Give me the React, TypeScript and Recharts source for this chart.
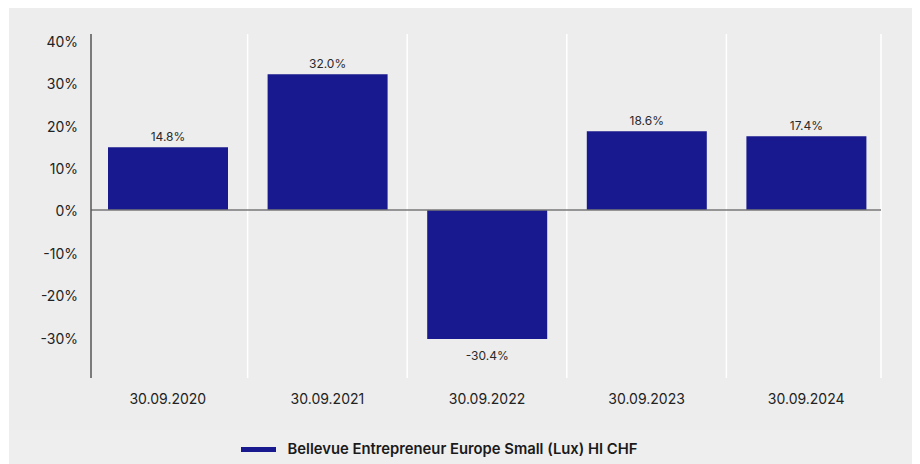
import React from "react";
import {
  BarChart,
  Bar,
  XAxis,
  YAxis,
  CartesianGrid,
  ReferenceLine,
  LabelList,
  Legend,
} from "recharts";

const categories = ["30.09.2020", "30.09.2021", "30.09.2022", "30.09.2023", "30.09.2024"];
const fundValues = [14.8, 32.0, -30.4, 18.6, 17.4];
const yTicks = [-30, -20, -10, 0, 10, 20, 30, 40];
const seriesName = "Bellevue Entrepreneur Europe Small (Lux) HI CHF";

const data = categories.map((c, i) => ({ date: c, fund: fundValues[i] }));

const FONT = "Inter, 'Noto Sans', sans-serif";
const BAR_COLOR = "#19198f";
const PAD_L = -3;
const PAD_R = -5;

const ValueLabel = (props: any) => {
  const { x, y, width, height, value } = props;
  const top = Math.min(y, y + height);
  const bottom = Math.max(y, y + height);
  const cx = x + width / 2;
  const v = Number(value);
  const yy = v >= 0 ? top - 6 : bottom + 21;
  return (
    <text x={cx} y={yy} textAnchor="middle" fontSize={12} fontFamily={FONT} fill="#2a2a2a">
      {v.toFixed(1) + "%"}
    </text>
  );
};

const LegendContent = () => (
  <div
    style={{
      height: 56,
      display: "flex",
      alignItems: "center",
      justifyContent: "center",
      paddingTop: 26,
      boxSizing: "border-box",
      paddingRight: 12,
      fontFamily: FONT,
    }}
  >
    <span style={{ display: "inline-block", width: 35, height: 5, background: BAR_COLOR, marginRight: 12 }} />
    <span style={{ fontSize: 14.8, fontWeight: 600, color: "#1a1a1a" }}>{seriesName}</span>
  </div>
);

export default function App() {
  return (
    <div style={{ position: "relative", top: -3, left: 1, width: 907, height: 459, background: "#ededed" }}>
      <div style={{ position: "absolute", left: 0, top: 425, width: 907, height: 34, background: "#eeeeee" }} />
      <div style={{ position: "absolute", left: 0, top: 0 }}>
        <BarChart
          width={907}
          height={459}
          data={data}
          margin={{ top: 29, right: 35, bottom: 0, left: 0 }}
          barSize={120}
        >
          <CartesianGrid
            horizontal={false}
            stroke="#ffffff"
            strokeWidth={1.5}
            verticalCoordinatesGenerator={({ offset }: any) => {
              const start = offset.left + PAD_L;
              const w = (offset.width - PAD_L - PAD_R) / categories.length;
              const pts = categories.slice(0, -1).map((_, i) => start + (i + 1) * w);
              return [...pts, offset.left + offset.width];
            }}
          />
          <XAxis
            dataKey="date"
            axisLine={false}
            tickLine={false}
            tickSize={0}
            tickMargin={16}
            height={30}
            padding={{ left: PAD_L, right: PAD_R }}
            tick={{ fontSize: 14, fill: "#222", fontFamily: FONT }}
          />
          <YAxis
            width={82}
            domain={[-39.6, 41.5]}
            ticks={yTicks}
            allowDataOverflow
            tickFormatter={(v: number) => `${v}%`}
            axisLine={{ stroke: "#555", strokeWidth: 1.5 }}
            tickLine={false}
            tickSize={0}
            tickMargin={13}
            tick={{ fontSize: 14, fill: "#222", fontFamily: FONT, dy: 1.5 }}
          />
          <ReferenceLine y={0} stroke="#777" strokeWidth={1.5} />
          <Legend verticalAlign="bottom" height={56} content={<LegendContent />} />
          <Bar dataKey="fund" name={seriesName} fill={BAR_COLOR} isAnimationActive={false}>
            <LabelList dataKey="fund" content={<ValueLabel />} />
          </Bar>
        </BarChart>
      </div>
    </div>
  );
}
